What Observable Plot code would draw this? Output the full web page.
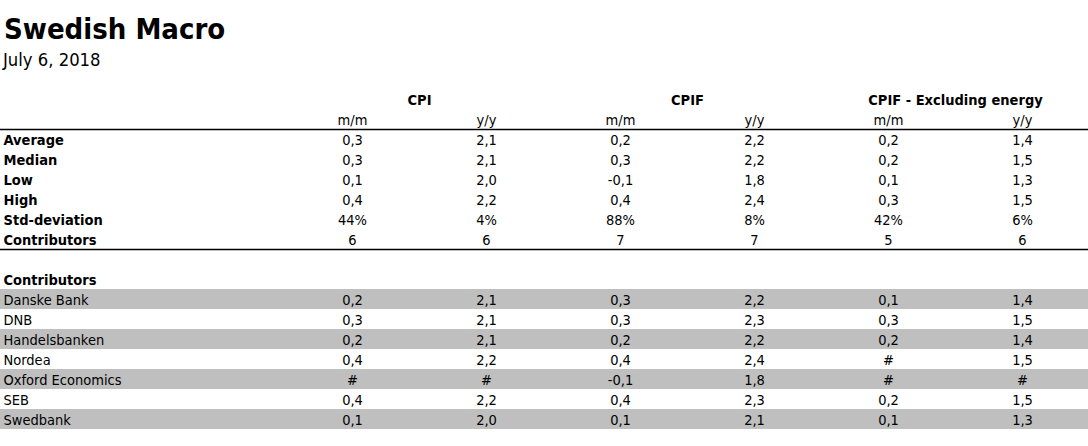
<!DOCTYPE html>
<html>
<head>
<meta charset="utf-8">
<script src="https://cdn.jsdelivr.net/npm/d3@7"></script>
<script src="https://cdn.jsdelivr.net/npm/@observablehq/plot@0.6"></script>
<style>
  html, body { margin: 0; padding: 0; background: #fff; }
  #wrap { position: relative; width: 1088px; height: 446px; overflow: hidden;
          font-family: "DejaVu Sans Condensed", "DejaVu Sans", sans-serif; font-stretch: condensed; color: #000; }
  #title { position: absolute; left: 4px; top: 15px; font-size: 29px; line-height: 29px; font-weight: bold; margin: 0; }
  #date { position: absolute; left: 3px; top: 50.5px; font-size: 18.3px; line-height: 18.3px; }
  #chart { position: absolute; left: 0; top: 89px; }
</style>
</head>
<body>
<div id="wrap">
  <div id="title">Swedish Macro</div>
  <div id="date">July 6, 2018</div>
  <div id="chart"></div>
</div>
<script>
// ---- data ----
const groups = ["CPI", "CPIF", "CPIF - Excluding energy"];
const subColumns = ["m/m", "y/y"];
const statLabels = ["Average", "Median", "Low", "High", "Std-deviation", "Contributors"];
// values per stat row, order: CPI m/m, CPI y/y, CPIF m/m, CPIF y/y, CPIF-xE m/m, CPIF-xE y/y
const averageVals = [0.3, 2.1, 0.2, 2.2, 0.2, 1.4];
const medianVals  = [0.3, 2.1, 0.3, 2.2, 0.2, 1.5];
const lowVals     = [0.1, 2.0, -0.1, 1.8, 0.1, 1.3];
const highVals    = [0.4, 2.2, 0.4, 2.4, 0.3, 1.5];
const stdDevPct   = [44, 4, 88, 8, 42, 6];
const countVals   = [6, 6, 7, 7, 5, 6];

const contributors = ["Danske Bank", "DNB", "Handelsbanken", "Nordea", "Oxford Economics", "SEB", "Swedbank"];
// null = "#" (no forecast)
const danskeVals = [0.2, 2.1, 0.3, 2.2, 0.1, 1.4];
const dnbVals    = [0.3, 2.1, 0.3, 2.3, 0.3, 1.5];
const handelsVals= [0.2, 2.1, 0.2, 2.2, 0.2, 1.4];
const nordeaVals = [0.4, 2.2, 0.4, 2.4, null, 1.5];
const oxfordVals = [null, null, -0.1, 1.8, null, null];
const sebVals    = [0.4, 2.2, 0.4, 2.3, 0.2, 1.5];
const swedVals   = [0.1, 2.0, 0.1, 2.1, 0.1, 1.3];

// ---- build table ----
const colKeys = groups.flatMap(g => subColumns.map(s => `${g}|${s}`));
const fmtDec = v => v == null ? "#" : d3.format(".1f")(v).replace(".", ",").replace("−", "-");
const fmtPct = v => `${v}%`;
const fmtInt = v => `${v}`;

const statRows = [
  {key: "s:Average", label: statLabels[0], vals: averageVals, fmt: fmtDec},
  {key: "s:Median", label: statLabels[1], vals: medianVals, fmt: fmtDec},
  {key: "s:Low", label: statLabels[2], vals: lowVals, fmt: fmtDec},
  {key: "s:High", label: statLabels[3], vals: highVals, fmt: fmtDec},
  {key: "s:Std", label: statLabels[4], vals: stdDevPct, fmt: fmtPct},
  {key: "s:Count", label: statLabels[5], vals: countVals, fmt: fmtInt}
];
const contribVals = [danskeVals, dnbVals, handelsVals, nordeaVals, oxfordVals, sebVals, swedVals];
const contribRows = contributors.map((c, i) => ({key: "c:" + c, label: c, vals: contribVals[i], fmt: fmtDec, shaded: i % 2 === 0}));

const rowDomain = ["hdrGroup", "hdrSub", ...statRows.map(r => r.key), "blank", "hdrContrib", ...contribRows.map(r => r.key)];

const cells = [];
for (const r of [...statRows, ...contribRows]) {
  r.vals.forEach((v, j) => cells.push({row: r.key, col: colKeys[j], text: r.fmt(v)}));
}
const subHeaders = colKeys.map(k => ({row: "hdrSub", col: k, text: k.split("|")[1]}));
const groupHeaders = groups.map(g => ({row: "hdrGroup", col: `${g}|${subColumns[0]}`, text: g}));
const boldLabels = [...statRows.map(r => ({row: r.key, text: r.label})), {row: "hdrContrib", text: "Contributors"}];
const plainLabels = contribRows.map(r => ({row: r.key, text: r.label}));
const shaded = contribRows.filter(r => r.shaded).map(r => ({row: r.key}));

const rowH = 20;
const colW = 134;
const fontFamily = '"DejaVu Sans Condensed", "DejaVu Sans", sans-serif';
const fs = 14.5;

const chart = Plot.plot({
  width: 1088,
  height: rowDomain.length * rowH + 17,
  marginTop: 0, marginBottom: 17, marginLeft: 0, marginRight: 0,
  style: {fontFamily, fontSize: fs + "px", color: "#000", background: "#fff", fontStretch: "condensed"},
  x: {type: "band", domain: colKeys, range: [285, 285 + colW * colKeys.length], padding: 0, axis: null},
  y: {type: "band", domain: rowDomain, padding: 0, axis: null},
  marks: [
    Plot.cell(shaded, {y: "row", fill: "#bfbfbf"}),
    Plot.ruleY(["s:Average", "blank"], {y: d => d, dy: -rowH / 2, stroke: "#000", strokeWidth: 1.6}),
    Plot.text(boldLabels, {y: "row", text: "text", frameAnchor: "left", textAnchor: "start", dx: 3, dy: 1, fontWeight: "bold", fontSize: fs, fill: "#000"}),
    Plot.text(plainLabels, {y: "row", text: "text", frameAnchor: "left", textAnchor: "start", dx: 3, dy: 1, fontSize: fs, fill: "#000"}),
    Plot.text(groupHeaders, {x: "col", y: "row", text: "text", dx: colW / 2, dy: 1, fontWeight: "bold", fontSize: fs, fill: "#000"}),
    Plot.text(subHeaders, {x: "col", y: "row", text: "text", dy: 1, fontSize: fs, fill: "#000"}),
    Plot.text(cells, {x: "col", y: "row", text: "text", dy: 1, fontSize: fs, fill: "#000"})
  ]
});
document.getElementById("chart").appendChild(chart);
</script>
</body>
</html>
